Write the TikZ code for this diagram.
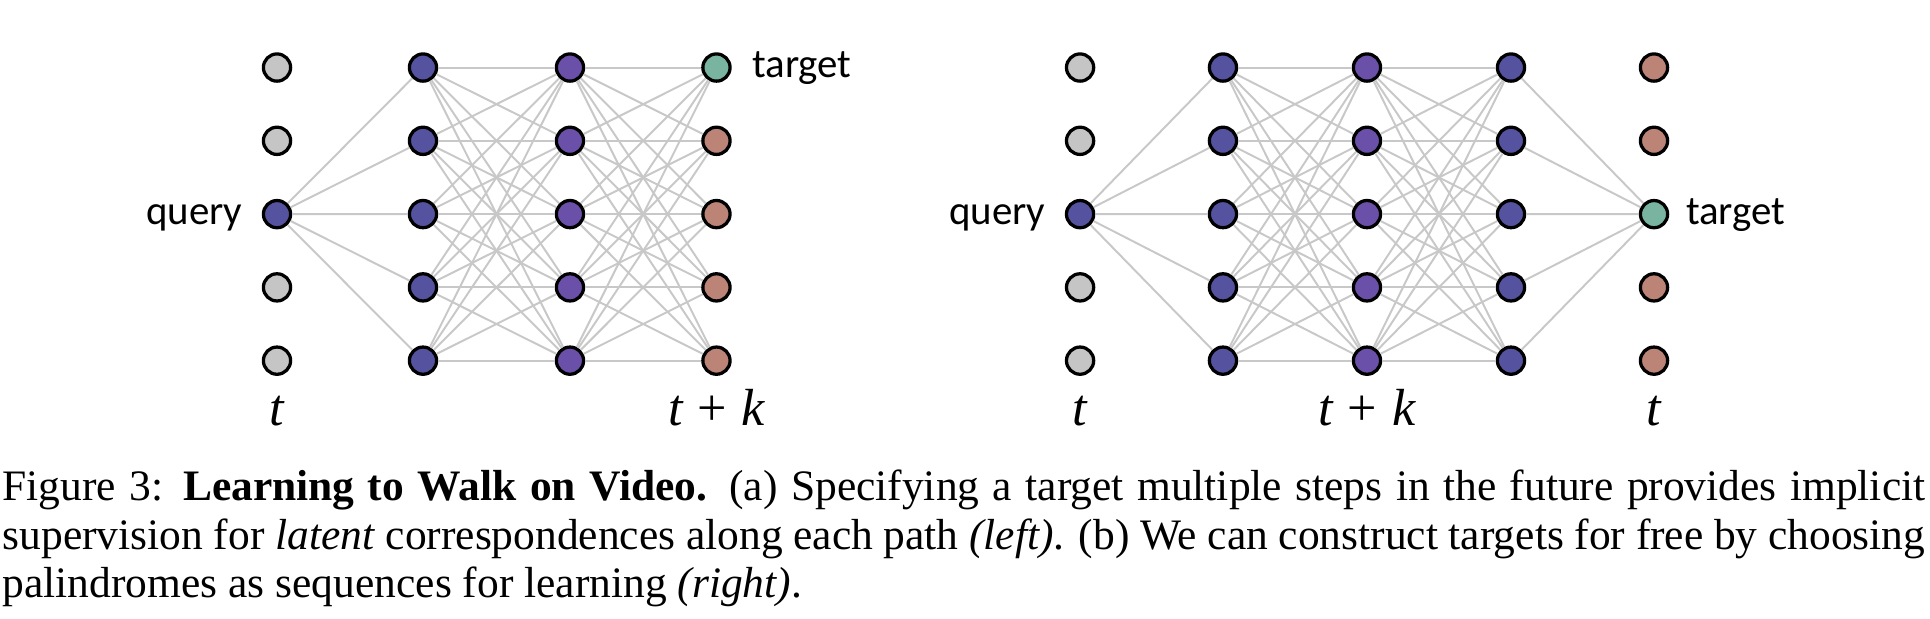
\documentclass[tikz,border=0pt]{standalone}
\usepackage{fontspec}
\setmainfont{Liberation Serif}
\newfontfamily\labelfont{Carlito}
\usepackage{tikz}
\usetikzlibrary{positioning}
\definecolor{idlegray}{RGB}{197,197,197}
\definecolor{walkblue}{RGB}{85,83,159}
\definecolor{walkpurple}{RGB}{106,80,168}
\definecolor{goalgreen}{RGB}{121,180,161}
\definecolor{restbrown}{RGB}{187,132,119}
\definecolor{edgegray}{RGB}{200,200,200}

\begin{document}
\begin{tikzpicture}[
    framenode/.style={circle, draw=black, line width=0.75pt, inner sep=0pt,
                minimum size=0.22cm},
    idlenode/.style={framenode, fill=idlegray},
    walknode/.style={framenode, fill=walkblue},
    midnode/.style={framenode, fill=walkpurple},
    goalnode/.style={framenode, fill=goalgreen},
    restnode/.style={framenode, fill=restbrown},
    link/.style={draw=edgegray, line width=0.45pt},
    tagtxt/.style={font=\labelfont\fontsize{9.4}{11}\selectfont, inner sep=0pt,
                text height=1ex, text depth=0pt},
    timelbl/.style={font=\fontsize{12}{14}\selectfont\itshape, inner sep=0pt, anchor=base},
    capline/.style={font=\fontsize{10}{11}\selectfont, inner sep=0pt, anchor=base west},
]
\useasboundingbox (0,0) rectangle (15.6,5.0);
% left: walk of k steps
\foreach \r in {1,2,4,5}
    \node[idlenode] (l1-\r) at (2.239, {4.454-0.5923*(\r-1)}) {};
\node[walknode] (l1-3) at (2.239, 3.269) {};
\foreach \r in {1,...,5} {
    \node[walknode] (l2-\r) at (3.419, {4.454-0.5923*(\r-1)}) {};
    \node[midnode]  (l3-\r) at (4.607, {4.454-0.5923*(\r-1)}) {};
}
\node[goalnode] (l4-1) at (5.791, 4.454) {};
\foreach \r in {2,...,5}
    \node[restnode] (l4-\r) at (5.791, {4.454-0.5923*(\r-1)}) {};
\foreach \r in {1,...,5}
    \draw[link] (l1-3) -- (l2-\r);
\foreach \r in {1,...,5}
    \foreach \s in {1,...,5} {
        \draw[link] (l2-\r) -- (l3-\s);
        \draw[link] (l3-\r) -- (l4-\s);
    }
\node[tagtxt, left=0.15cm of l1-3]  (lquery)  {query};
\node[tagtxt, right=0.16cm of l4-1] (ltarget) {target};
\node[timelbl] (lt0) at (2.239, 1.56) {t};
\node[timelbl] (ltk) at (5.791, 1.56) {t\hspace{3.4pt}{\upshape+}\hspace{3.4pt}k};
% right: palindrome
\foreach \r in {1,2,4,5} {
    \node[idlenode] (r1-\r) at (8.730, {4.454-0.5923*(\r-1)}) {};
    \node[restnode] (r5-\r) at (13.369, {4.454-0.5923*(\r-1)}) {};
}
\node[walknode] (r1-3) at (8.730, 3.269) {};
\node[goalnode] (r5-3) at (13.369, 3.269) {};
\foreach \r in {1,...,5} {
    \node[walknode] (r2-\r) at (9.885, {4.454-0.5923*(\r-1)}) {};
    \node[midnode]  (r3-\r) at (11.049, {4.454-0.5923*(\r-1)}) {};
    \node[walknode] (r4-\r) at (12.213, {4.454-0.5923*(\r-1)}) {};
}
\foreach \r in {1,...,5} {
    \draw[link] (r1-3) -- (r2-\r);
    \draw[link] (r4-\r) -- (r5-3);
}
\foreach \r in {1,...,5}
    \foreach \s in {1,...,5} {
        \draw[link] (r2-\r) -- (r3-\s);
        \draw[link] (r3-\r) -- (r4-\s);
    }
\node[tagtxt, left=0.15cm of r1-3]  (rquery)  {query};
\node[tagtxt, right=0.13cm of r5-3] (rtarget) {target};
\node[timelbl] (rt0) at (8.730, 1.56)  {t};
\node[timelbl] (rtk) at (11.049, 1.56) {t\hspace{3.4pt}{\upshape+}\hspace{3.4pt}k};
\node[timelbl] (rt1) at (13.369, 1.56) {t};
% caption
\node[capline] (cap1) at (0.015, 0.954) {\makebox[15.54cm][s]{Figure 3: \textbf{Learning to Walk on Video.} (a) Specifying a target multiple steps in the future provides implicit}};
\node[capline] (cap2) at (0.015, 0.558) {\makebox[15.54cm][s]{supervision for \textit{latent} correspondences along each path \textit{(left)}. (b) We can construct targets for free by choosing}};
\node[capline] (cap3) at (0.015, 0.170) {palindromes as sequences for learning \textit{(right)}.};
\end{tikzpicture}
\end{document}
